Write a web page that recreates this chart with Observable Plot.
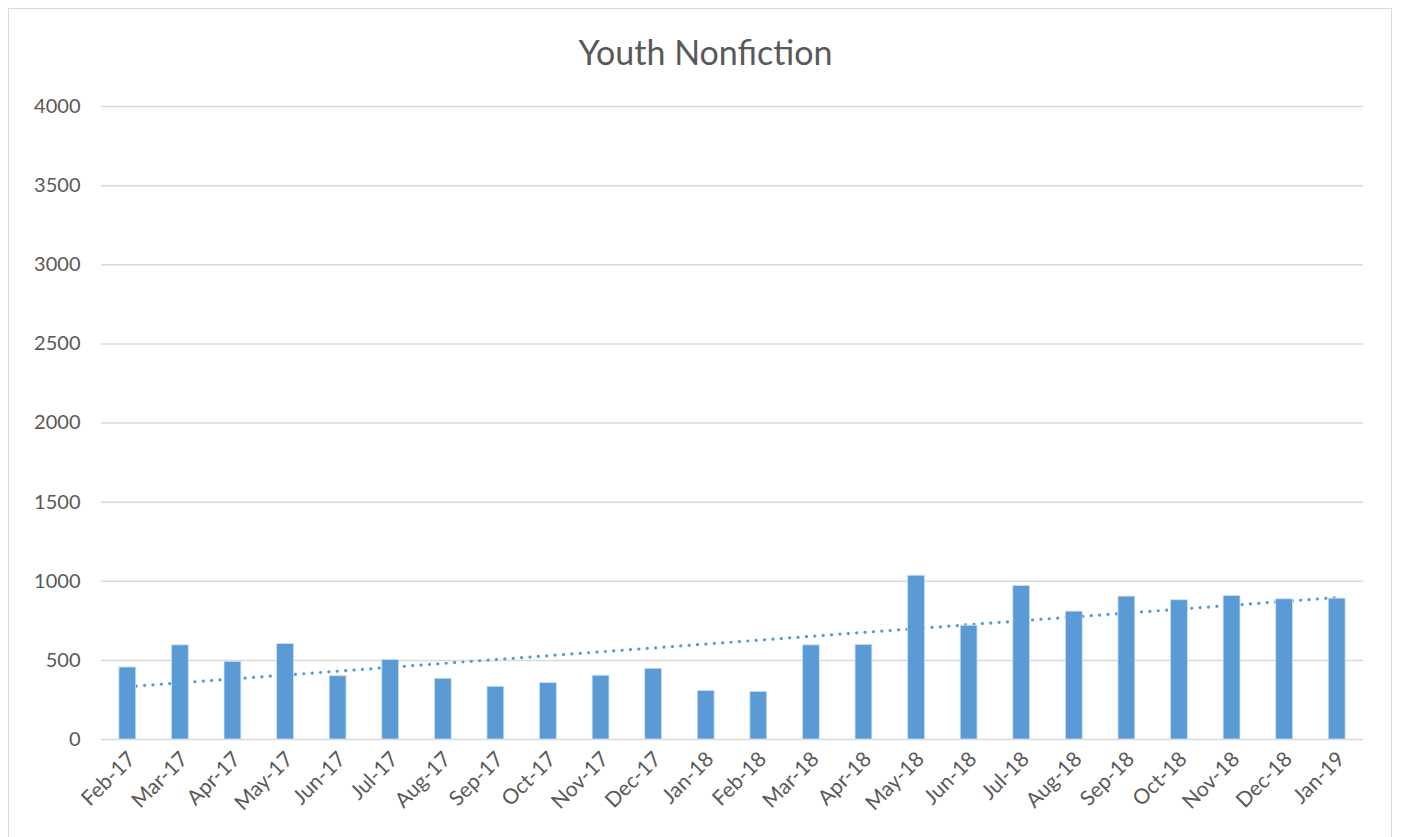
<!DOCTYPE html>
<html>
<head>
<meta charset="utf-8">
<script src="https://cdn.jsdelivr.net/npm/d3@7"></script>
<script src="https://cdn.jsdelivr.net/npm/@observablehq/plot@0.6"></script>
<style>
  html, body { margin: 0; padding: 0; background: #fff; }
  body { width: 1411px; height: 837px; position: relative; overflow: hidden; font-family: Lato, "Open Sans", sans-serif; }
  #frame { position: absolute; left: 8px; top: 8px; width: 1384px; height: 840px; border: 1px solid #d9d9d9; box-sizing: border-box; }
  #title { position: absolute; left: 0; top: 31px; width: 1411px; text-align: center; font-size: 34px; color: #595959; line-height: 42px; }
  #chart { position: absolute; left: 0; top: 88px; }
</style>
</head>
<body>
<div id="frame"></div>
<div id="title">Youth Nonfiction</div>
<div id="chart"></div>
<script>
const months = ["Feb-17","Mar-17","Apr-17","May-17","Jun-17","Jul-17","Aug-17","Sep-17","Oct-17","Nov-17","Dec-17","Jan-18",
                "Feb-18","Mar-18","Apr-18","May-18","Jun-18","Jul-18","Aug-18","Sep-18","Oct-18","Nov-18","Dec-18","Jan-19"];
const values = [455, 595, 491, 603, 400, 502, 384, 333, 356, 403, 447, 306,
                301, 595, 598, 1035, 719, 970, 808, 903, 880, 907, 886, 890];
const yTicks = [0, 500, 1000, 1500, 2000, 2500, 3000, 3500, 4000];

const data = months.map((m, i) => ({month: m, value: values[i]}));

// Linear trendline (least squares over month index), as in the spreadsheet
const mx = d3.mean(values, (v, i) => i);
const my = d3.mean(values);
const sxy = d3.sum(values, (v, i) => (i - mx) * (v - my));
const sxx = d3.sum(values, (v, i) => (i - mx) ** 2);
const slope = sxy / sxx;
const intercept = my - slope * mx;
const trend = months.map((m, i) => ({month: m, value: intercept + slope * i}));

const chart = Plot.plot({
  width: 1411,
  height: 740,
  marginLeft: 101,
  marginRight: 48,
  marginTop: 18,
  marginBottom: 89,
  style: {fontFamily: "Lato, 'Open Sans', sans-serif", fontSize: "20px", color: "#595959", background: "transparent"},
  x: {domain: months, paddingInner: 0.68, paddingOuter: 0.34, round: false, label: null},
  y: {domain: [0, 4000], label: null},
  marks: [
    Plot.gridY(yTicks, {stroke: "#d9d9d9", strokeOpacity: 1, strokeWidth: 1.5}),
    Plot.line(trend, {x: "month", y: "value", stroke: "#5b9bd5", strokeWidth: 3.2, strokeDasharray: "0.1 8.3", strokeLinecap: "round"}),
    Plot.barY(data, {x: "month", y: "value", fill: "#5b9bd5", stroke: "#cfe0f2", strokeWidth: 0.8}),
    Plot.axisY({ticks: yTicks, tickFormat: d => String(d), tickSize: 0, tickPadding: 21, fill: "#595959", fontSize: 20, label: null}),
    Plot.axisX({tickSize: 0, tickRotate: -45, tickPadding: 16, dx: 4, fill: "#595959", fontSize: 21, label: null})
  ]
});
document.getElementById("chart").appendChild(chart);
</script>
</body>
</html>
